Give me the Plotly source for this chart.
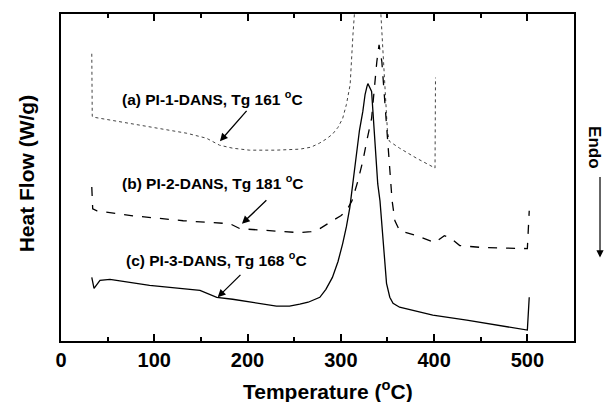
import plotly.graph_objects as go

# Curve (a) PI-1-DANS (dotted)
temp_a = [33, 33.5, 36, 60, 95, 135, 156, 170, 184, 202, 230, 256, 268, 277, 284, 291, 297, 302, 306, 310,
          313, 315, 320, 330, 340, 343, 346, 350, 352, 363, 381, 401, 401.5]
flow_a = [289, 226, 225, 221, 215, 209, 204, 197, 194, 192, 192, 193, 195, 199, 203, 208, 215, 224, 238, 258,
          308, 328, 401, 541, 401, 328, 281, 211, 201, 194, 184, 174, 265]

# Curve (b) PI-2-DANS (dashed)
temp_b = [33, 34, 38.6, 77, 131, 181, 192, 221, 256, 268, 277.5, 291, 300, 306, 312, 318, 323.6, 328, 333,
          338.6, 341, 344, 347, 350, 355, 358, 363, 381, 401, 411, 417, 427.5, 452, 500, 502]
flow_b = [155, 133, 131, 126, 121, 118, 113, 111, 109, 110, 113, 121, 126, 131, 141, 160, 181, 202, 224,
          281, 298, 281, 241, 208, 141, 121, 111, 106, 99, 106, 104, 96, 94, 93, 131]

# Curve (c) PI-3-DANS (solid)
temp_c = [33, 35.4, 41.8, 52.5, 95, 149, 167, 184, 231, 245, 256, 265, 277.5, 284, 291, 297, 302, 306,
          309.6, 313, 317, 320, 323.6, 326, 328, 329, 333, 336, 339.6, 342, 347, 349, 352.5, 356, 363,
          398.6, 435, 500, 502]
flow_c = [64, 53, 61, 62, 56, 51, 44, 42, 35, 35, 37, 39, 44, 52, 64, 80, 98, 115,
          134, 160, 191, 212, 231, 248, 256, 259, 251, 208, 158, 141, 74, 58, 44, 38, 34,
          26, 21, 11, 44]

labels = ["(a) PI-1-DANS, Tg 161 <sup>o</sup>C",
          "(b) PI-2-DANS, Tg 181 <sup>o</sup>C",
          "(c) PI-3-DANS, Tg 168 <sup>o</sup>C"]
label_pos = [(63, 244), (63, 160), (67.5, 83)]
arrow_tail = [(200.4, 233), (221.8, 143), (194, 68)]
arrow_head = [(170.4, 201), (194, 118), (168, 44)]

FONT = "Liberation Sans, Arial, sans-serif"
Y_MAX = 329

fig = go.Figure()
fig.add_trace(go.Scatter(x=temp_a, y=flow_a, mode="lines",
                         line=dict(color="#444", width=1, dash="dot"), showlegend=False))
fig.add_trace(go.Scatter(x=temp_b, y=flow_b, mode="lines",
                         line=dict(color="black", width=1.3, dash="dash"), showlegend=False))
fig.add_trace(go.Scatter(x=temp_c, y=flow_c, mode="lines",
                         line=dict(color="black", width=1.3), showlegend=False))

annotations = []
for txt, (lx, ly) in zip(labels, label_pos):
    annotations.append(dict(x=lx, y=ly, xref="x", yref="y", text=txt, showarrow=False,
                            xanchor="left", yanchor="middle",
                            font=dict(family=FONT, size=15.5, color="black", weight="bold")))
for (ax_, ay_), (hx, hy) in zip(arrow_tail, arrow_head):
    annotations.append(dict(x=hx, y=hy, ax=ax_, ay=ay_, xref="x", yref="y", axref="x", ayref="y",
                            text="", showarrow=True, arrowhead=2, arrowsize=1.2, arrowwidth=1.3,
                            arrowcolor="black"))

annotations.append(dict(x=0.52, y=-0.149, xref="paper", yref="paper", text="Temperature (<sup>o</sup>C)",
                        showarrow=False, xanchor="center", yanchor="middle",
                        font=dict(family=FONT, size=21, color="black", weight="bold")))
annotations.append(dict(x=-0.068, y=0.51, xref="paper", yref="paper", text="Heat Flow (W/g)",
                        showarrow=False, xanchor="center", yanchor="middle", textangle=-90,
                        font=dict(family=FONT, size=21, color="black", weight="bold")))
annotations.append(dict(x=1.041, y=0.593, xref="paper", yref="paper", text="Endo",
                        showarrow=False, xanchor="center", yanchor="middle", textangle=90,
                        font=dict(family=FONT, size=17, color="black", weight="bold")))
annotations.append(dict(x=1.0507, y=0.2553, xref="paper", yref="paper", text="",
                        showarrow=True, ax=0, ay=-82, arrowhead=2, arrowsize=1.2, arrowwidth=1.2,
                        arrowcolor="black"))

fig.update_layout(
    width=606, height=402,
    margin=dict(l=61, r=32, t=12, b=61),
    paper_bgcolor="white", plot_bgcolor="white",
    annotations=annotations,
    xaxis=dict(range=[0, 550], tickmode="linear", tick0=0, dtick=100, ticks="inside", ticklen=7,
               tickwidth=1.6, tickcolor="black", showline=True, linewidth=2, linecolor="black",
               mirror="ticks", showgrid=False, zeroline=False,
               minor=dict(tickmode="linear", tick0=0, dtick=50, ticks="inside", ticklen=4,
                          tickwidth=1.6, tickcolor="black", showgrid=False),
               tickfont=dict(family=FONT, size=20, color="black", weight="bold")),
    yaxis=dict(range=[0, Y_MAX], showticklabels=False, ticks="", showline=True, linewidth=2,
               linecolor="black", mirror=True, showgrid=False, zeroline=False),
)

fig.write_html("out.html")
